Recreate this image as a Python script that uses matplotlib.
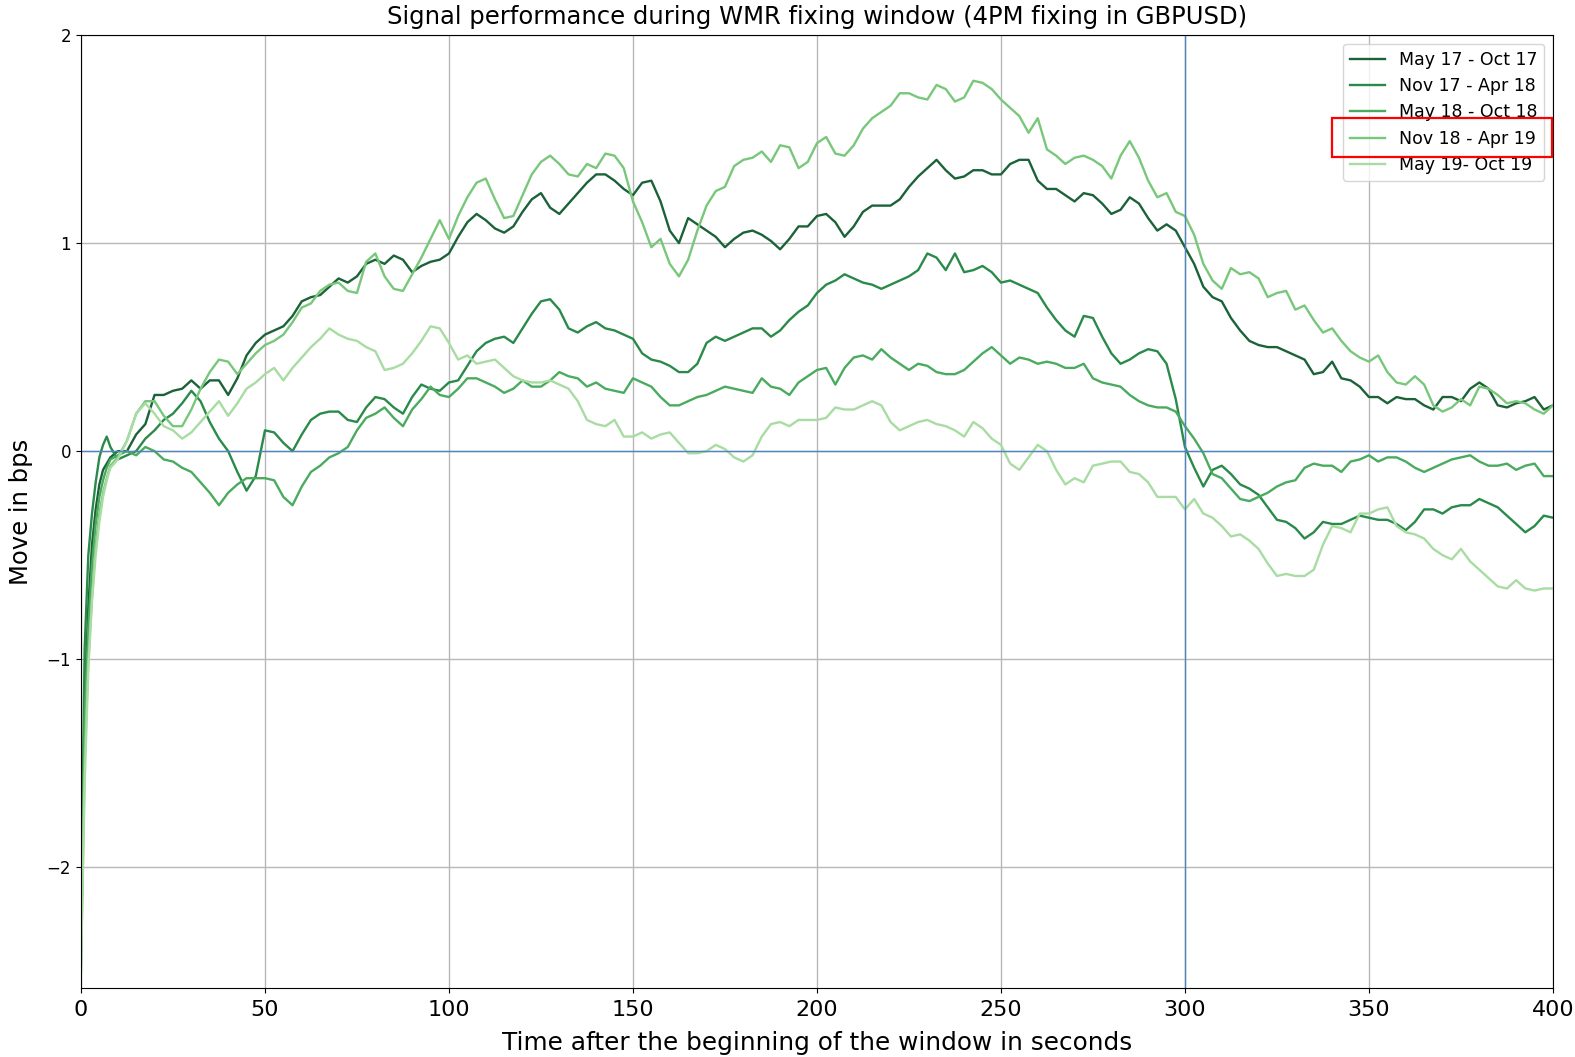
import numpy as np
import matplotlib
matplotlib.use("Agg")
from matplotlib import pyplot as plt
from matplotlib.patches import Rectangle

# time axis: dense first seconds, then every 2.5 s
t_start = [0, 1, 2, 3, 4, 5, 6, 7, 8]
t_step = np.arange(10, 400.01, 2.5)
seconds = np.concatenate([t_start, t_step])

labels = ["May 17 - Oct 17", "Nov 17 - Apr 18", "May 18 - Oct 18",
          "Nov 18 - Apr 19", "May 19- Oct 19"]
colors = ["#1b6238", "#2a8a4a", "#4aab5f", "#78c77a", "#a8dca2"]

may17_oct17 = [
    -2.4, -1.2, -0.75, -0.45, -0.28, -0.16, -0.09, -0.06, -0.03,
    0.0, 0.0, 0.08, 0.13, 0.27, 0.27, 0.29, 0.3,
    0.34, 0.3, 0.34, 0.34, 0.27, 0.35, 0.46, 0.52,
    0.56, 0.58, 0.6, 0.65, 0.72, 0.74, 0.75, 0.79,
    0.83, 0.81, 0.84, 0.9, 0.92, 0.9, 0.94, 0.92,
    0.86, 0.89, 0.91, 0.92, 0.95, 1.03, 1.1, 1.14,
    1.11, 1.07, 1.05, 1.08, 1.15, 1.21, 1.24, 1.17,
    1.14, 1.19, 1.24, 1.29, 1.33, 1.33, 1.3, 1.26,
    1.23, 1.29, 1.3, 1.2, 1.06, 1.0, 1.12, 1.09,
    1.06, 1.03, 0.98, 1.02, 1.05, 1.06, 1.04, 1.01,
    0.97, 1.02, 1.08, 1.08, 1.13, 1.14, 1.1, 1.03,
    1.08, 1.15, 1.18, 1.18, 1.18, 1.21, 1.27, 1.32,
    1.36, 1.4, 1.35, 1.31, 1.32, 1.35, 1.35, 1.33,
    1.33, 1.38, 1.4, 1.4, 1.3, 1.26, 1.26, 1.23,
    1.2, 1.24, 1.23, 1.19, 1.14, 1.16, 1.22, 1.19,
    1.12, 1.06, 1.09, 1.06, 0.98, 0.9, 0.79, 0.74,
    0.72, 0.64, 0.58, 0.53, 0.51, 0.5, 0.5, 0.48,
    0.46, 0.44, 0.37, 0.38, 0.43, 0.35, 0.34, 0.31,
    0.26, 0.26, 0.23, 0.26, 0.25, 0.25, 0.22, 0.2,
    0.26, 0.26, 0.24, 0.3, 0.33, 0.3, 0.22, 0.21,
    0.23, 0.24, 0.26, 0.2, 0.22]

nov17_apr18 = [
    -2.3, -0.95, -0.5, -0.3, -0.15, -0.03, 0.03, 0.07, 0.02,
    -0.04, -0.02, 0.0, 0.06, 0.1, 0.15, 0.18, 0.23,
    0.29, 0.24, 0.14, 0.06, 0.0, -0.1, -0.19, -0.12,
    0.1, 0.09, 0.04, 0.0, 0.08, 0.15, 0.18, 0.19,
    0.19, 0.15, 0.14, 0.21, 0.26, 0.25, 0.21, 0.18,
    0.26, 0.32, 0.3, 0.29, 0.33, 0.34, 0.41, 0.48,
    0.52, 0.54, 0.55, 0.52, 0.59, 0.66, 0.72, 0.73,
    0.68, 0.59, 0.57, 0.6, 0.62, 0.59, 0.58, 0.56,
    0.54, 0.47, 0.44, 0.43, 0.41, 0.38, 0.38, 0.42,
    0.52, 0.55, 0.53, 0.55, 0.57, 0.59, 0.59, 0.55,
    0.58, 0.63, 0.67, 0.7, 0.76, 0.8, 0.82, 0.85,
    0.83, 0.81, 0.8, 0.78, 0.8, 0.82, 0.84, 0.87,
    0.95, 0.93, 0.87, 0.95, 0.86, 0.87, 0.89, 0.86,
    0.81, 0.82, 0.8, 0.78, 0.76, 0.69, 0.63, 0.58,
    0.55, 0.65, 0.64, 0.55, 0.47, 0.42, 0.44, 0.47,
    0.49, 0.48, 0.42, 0.25, 0.02, -0.08, -0.17, -0.09,
    -0.07, -0.11, -0.16, -0.18, -0.21, -0.27, -0.33, -0.34,
    -0.37, -0.42, -0.39, -0.34, -0.35, -0.35, -0.33, -0.31,
    -0.32, -0.33, -0.33, -0.35, -0.38, -0.34, -0.28, -0.28,
    -0.3, -0.27, -0.26, -0.26, -0.23, -0.25, -0.27, -0.31,
    -0.35, -0.39, -0.36, -0.31, -0.32]

may18_oct18 = [
    -2.45, -1.3, -0.85, -0.55, -0.35, -0.22, -0.14, -0.08, -0.04,
    -0.02, 0.0, -0.02, 0.02, 0.0, -0.04, -0.05, -0.08,
    -0.1, -0.15, -0.2, -0.26, -0.2, -0.16, -0.13, -0.13,
    -0.13, -0.14, -0.22, -0.26, -0.17, -0.1, -0.07, -0.03,
    -0.01, 0.02, 0.1, 0.16, 0.18, 0.21, 0.16, 0.12,
    0.2, 0.25, 0.31, 0.27, 0.26, 0.3, 0.35, 0.35,
    0.33, 0.31, 0.28, 0.3, 0.34, 0.31, 0.31, 0.34,
    0.38, 0.36, 0.35, 0.31, 0.33, 0.3, 0.29, 0.28,
    0.35, 0.33, 0.31, 0.26, 0.22, 0.22, 0.24, 0.26,
    0.27, 0.29, 0.31, 0.3, 0.29, 0.28, 0.35, 0.31,
    0.3, 0.27, 0.33, 0.36, 0.39, 0.4, 0.32, 0.4,
    0.45, 0.46, 0.44, 0.49, 0.45, 0.42, 0.39, 0.42,
    0.41, 0.38, 0.37, 0.37, 0.39, 0.43, 0.47, 0.5,
    0.46, 0.42, 0.45, 0.44, 0.42, 0.43, 0.42, 0.4,
    0.4, 0.42, 0.35, 0.33, 0.32, 0.31, 0.27, 0.24,
    0.22, 0.21, 0.21, 0.19, 0.12, 0.06, -0.01, -0.11,
    -0.13, -0.18, -0.23, -0.24, -0.22, -0.2, -0.17, -0.15,
    -0.14, -0.08, -0.06, -0.07, -0.07, -0.1, -0.05, -0.04,
    -0.02, -0.05, -0.03, -0.03, -0.05, -0.08, -0.1, -0.08,
    -0.06, -0.04, -0.03, -0.02, -0.05, -0.07, -0.07, -0.06,
    -0.09, -0.07, -0.06, -0.12, -0.12]

nov18_apr19 = [
    -2.5, -1.5, -1.0, -0.7, -0.45, -0.3, -0.2, -0.13, -0.07,
    -0.03, 0.05, 0.18, 0.24, 0.24, 0.17, 0.12, 0.12,
    0.2, 0.3, 0.38, 0.44, 0.43, 0.37, 0.42, 0.47,
    0.51, 0.53, 0.56, 0.62, 0.69, 0.71, 0.77, 0.8,
    0.81, 0.77, 0.76, 0.91, 0.95, 0.84, 0.78, 0.77,
    0.85, 0.93, 1.02, 1.11, 1.02, 1.13, 1.22, 1.29,
    1.31, 1.21, 1.12, 1.13, 1.23, 1.33, 1.39, 1.42,
    1.38, 1.33, 1.32, 1.38, 1.36, 1.43, 1.42, 1.36,
    1.2, 1.1, 0.98, 1.02, 0.9, 0.84, 0.92, 1.06,
    1.18, 1.25, 1.27, 1.37, 1.4, 1.41, 1.44, 1.39,
    1.47, 1.46, 1.36, 1.39, 1.48, 1.51, 1.43, 1.42,
    1.47, 1.55, 1.6, 1.63, 1.66, 1.72, 1.72, 1.7,
    1.69, 1.76, 1.74, 1.68, 1.7, 1.78, 1.77, 1.74,
    1.69, 1.65, 1.61, 1.53, 1.6, 1.45, 1.42, 1.38,
    1.41, 1.42, 1.4, 1.37, 1.31, 1.42, 1.49, 1.41,
    1.3, 1.22, 1.24, 1.15, 1.13, 1.04, 0.9, 0.82,
    0.78, 0.88, 0.85, 0.86, 0.83, 0.74, 0.76, 0.77,
    0.68, 0.7, 0.63, 0.57, 0.59, 0.53, 0.48, 0.45,
    0.43, 0.46, 0.38, 0.33, 0.32, 0.36, 0.32, 0.22,
    0.19, 0.21, 0.25, 0.22, 0.31, 0.3, 0.27, 0.23,
    0.24, 0.23, 0.2, 0.18, 0.22]

may19_oct19 = [
    -2.5, -1.6, -1.05, -0.72, -0.5, -0.34, -0.22, -0.14, -0.08,
    -0.04, 0.05, 0.18, 0.23, 0.18, 0.12, 0.1, 0.06,
    0.09, 0.14, 0.19, 0.24, 0.17, 0.23, 0.3, 0.33,
    0.37, 0.4, 0.34, 0.4, 0.45, 0.5, 0.54, 0.59,
    0.56, 0.54, 0.53, 0.5, 0.48, 0.39, 0.4, 0.42,
    0.47, 0.53, 0.6, 0.59, 0.52, 0.44, 0.46, 0.42,
    0.43, 0.44, 0.4, 0.36, 0.34, 0.33, 0.33, 0.34,
    0.32, 0.3, 0.24, 0.15, 0.13, 0.12, 0.15, 0.07,
    0.07, 0.09, 0.06, 0.08, 0.09, 0.04, -0.01, -0.01,
    0.0, 0.03, 0.01, -0.03, -0.05, -0.02, 0.07, 0.13,
    0.14, 0.12, 0.15, 0.15, 0.15, 0.16, 0.21, 0.2,
    0.2, 0.22, 0.24, 0.22, 0.14, 0.1, 0.12, 0.14,
    0.15, 0.13, 0.12, 0.1, 0.07, 0.14, 0.11, 0.06,
    0.03, -0.06, -0.09, -0.03, 0.03, 0.0, -0.09, -0.16,
    -0.13, -0.15, -0.07, -0.06, -0.05, -0.05, -0.1, -0.11,
    -0.15, -0.22, -0.22, -0.22, -0.28, -0.23, -0.3, -0.32,
    -0.36, -0.41, -0.4, -0.43, -0.47, -0.54, -0.6, -0.59,
    -0.6, -0.6, -0.57, -0.45, -0.36, -0.37, -0.39, -0.3,
    -0.3, -0.28, -0.27, -0.36, -0.39, -0.4, -0.42, -0.47,
    -0.5, -0.52, -0.47, -0.53, -0.57, -0.61, -0.65, -0.66,
    -0.62, -0.66, -0.67, -0.66, -0.66]

series = [may17_oct17, nov17_apr18, may18_oct18, nov18_apr19, may19_oct19]

fig = plt.figure(figsize=(15.75, 10.57), dpi=100)
ax = fig.add_axes([0.0514, 0.0653, 0.9346, 0.9016])

for vals, lab, col in zip(series, labels, colors):
    ax.plot(seconds, vals, color=col, linewidth=1.7, label=lab)

ax.axhline(0, color="#4f86c0", linewidth=1.0)
ax.axvline(300, color="#4f86c0", linewidth=1.0)

ax.set_xlim(0, 400)
ax.set_ylim(-2.58, 2)
ax.set_xticks(range(0, 401, 50))
ax.set_yticks([-2, -1, 0, 1, 2])
ax.grid(True, color="#b8b8b8", linewidth=1.0)
ax.set_axisbelow(True)
ax.tick_params(axis="x", labelsize=16, pad=5)
ax.tick_params(axis="y", labelsize=12)

ax.set_title("Signal performance during WMR fixing window (4PM fixing in GBPUSD)",
             fontsize=17.5, pad=8)
ax.set_xlabel("Time after the beginning of the window in seconds", fontsize=17.8, labelpad=8)
ax.set_ylabel("Move in bps", fontsize=17.5, labelpad=10)

ax.legend(loc="upper right", fontsize=12.5, borderaxespad=0.5, labelspacing=0.48)

# red box highlighting one legend entry
fig.patches.append(Rectangle((0.8457, 0.8515), 0.1397, 0.0369, transform=fig.transFigure,
                             fill=False, edgecolor="red", linewidth=1.6, zorder=10))

fig.savefig("out.png", dpi=100)
